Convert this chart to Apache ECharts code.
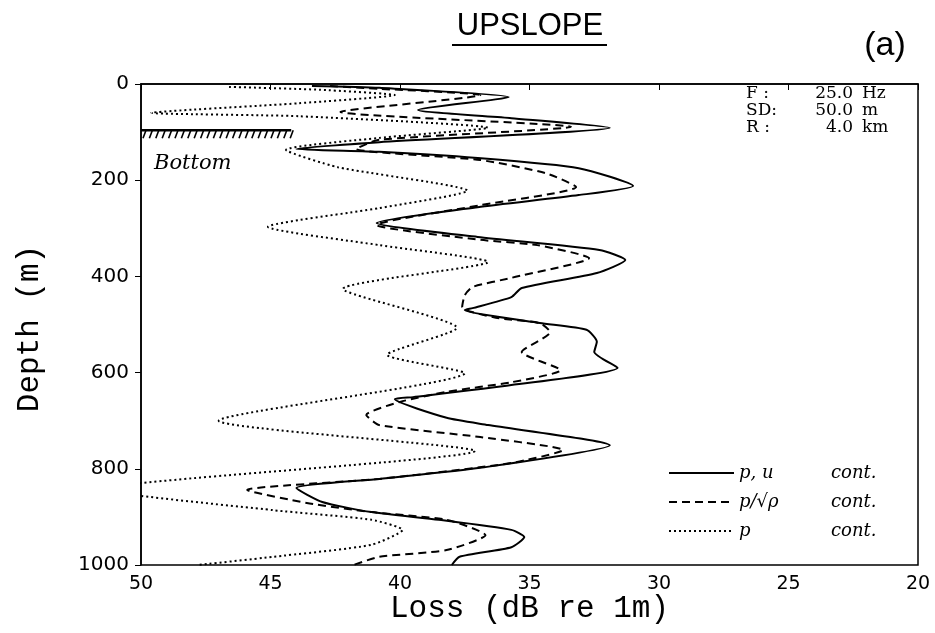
<!DOCTYPE html>
<html><head><meta charset="utf-8">
<script src="https://cdn.jsdelivr.net/npm/echarts@6/dist/echarts.min.js"></script>
<style>html,body{margin:0;padding:0;background:#fff}#c{width:935px;height:633px}</style>
</head><body><div id="c"></div>
<script>
// Loss (dB) vs depth (m) for the three continuity conditions
const solidLoss  = [43.4,40.8,35.8,39.3,35.7,31.9,40.8,44.0,40.8,37.0,33.1,31.0,33.1,37.0,40.9,37.0,32.3,31.3,32.4,35.3,35.7,37.2,37.5,34.6,32.8,32.4,32.5,31.6,35.7,39.5,40.2,38.2,36.6,31.9,36.9,40.8,44.0,43.0,41.1,38.5,35.7,35.2,35.7,37.7,38.0];
const solidDepth = [4,8,27,54,71,91,121,135,141,154,175,212,231,256,289,318,345,366,393,424,443,466,470,497,511,536,557,590,626,651,655,694,709,751,798,821,840,869,890,906,927,942,963,983,1000];

const dashLoss  = [42.7,40.8,36.9,42.3,33.4,40.8,41.7,36.9,34.4,33.2,36.9,40.9,36.9,34.7,32.7,35.7,37.2,37.5,37.6,36.3,34.6,34.2,35.3,33.8,35.7,38.2,40.0,41.3,40.8,36.9,33.7,35.7,40.8,45.9,43.6,41.1,38.2,36.7,38.2,40.8,41.8];
const dashDepth = [4,10,23,58,89,116,135,158,185,214,252,293,324,335,362,403,422,439,464,486,497,516,557,595,620,640,661,688,709,734,761,788,821,844,871,890,906,938,969,983,1000];

const dotLoss  = [46.6,43.1,40.2,43.9,49.6,43.9,36.6,40.8,44.4,42.4,37.4,40.8,45.1,40.8,36.6,42.2,37.8,40.5,37.5,47.0,37.1,51.5,44.9,41.1,39.9,41.1,44.9,47.8];
const dotDepth = [6,12,23,40,60,67,91,112,137,173,222,258,297,335,370,426,507,563,601,700,763,843,886,906,927,958,983,1000];

const lossTicks  = [50,45,40,35,30,25,20];
const depthTicks = [0,200,400,600,800,1000];
const seriesNames = ['p, u', 'p/\u221A\u03C1', 'p'];
const infoRows = [['F :','25.0','Hz'],['SD:','50.0','m'],['R :','4.0','km']];
const bottomDepth = 96;

const zip = (a,b) => a.map((v,i)=>[v,b[i]]);
const chart = echarts.init(document.getElementById('c'));
const serif = '"DejaVu Serif", serif';
const mono = '"Liberation Mono", monospace';
const sans = '"DejaVu Sans", sans-serif';

chart.setOption({
  animation:false,
  backgroundColor:'#fff',
  grid:{left:141, right:17, top:84, bottom:68, show:true, borderColor:'#000', borderWidth:1.5,
        containLabel:false, outerBoundsMode:'none'},
  legend:{orient:'vertical', left:663, top:459, itemWidth:65, itemHeight:14, itemGap:11,
    data:seriesNames,
    itemStyle:{opacity:0},
    formatter: n => '{a|'+n+'}{b|cont.}',
    textStyle:{rich:{a:{width:92, fontFamily:serif, fontStyle:'italic', fontSize:18, lineHeight:16, color:'#000'},
                     b:{fontFamily:serif, fontStyle:'italic', fontSize:18, lineHeight:16, color:'#000'}}}},
  xAxis:{type:'value', min:20, max:50, interval:5, inverse:true,
    name:'Loss (dB re 1m)', nameLocation:'middle', nameGap:28, nameMoveOverlap:false,
    nameTextStyle:{fontFamily:mono, fontSize:31, color:'#000'},
    axisLine:{lineStyle:{color:'#000', width:1.5}},
    axisTick:{show:true, length:6, lineStyle:{color:'#000'}},
    axisLabel:{fontFamily:sans, fontSize:19, color:'#000', margin:10, formatter:v=>String(v)},
    splitLine:{show:false}},
  yAxis:{type:'value', min:0, max:1000, interval:200, inverse:true,
    name:'Depth (m)', nameLocation:'middle', nameGap:96, nameRotate:90,
    nameTextStyle:{fontFamily:mono, fontSize:31, color:'#000', padding:[0,0,0,-8]},
    axisLine:{lineStyle:{color:'#000', width:1.5}},
    axisTick:{show:true, length:6, lineStyle:{color:'#000'}},
    axisLabel:{fontFamily:sans, fontSize:20, color:'#000', margin:12, formatter:v=>String(v)},
    splitLine:{show:false}},
  series:[
    {name:seriesNames[0], type:'line', data:zip(solidLoss,solidDepth), symbol:'none', smooth:0.2,
      lineStyle:{color:'#000', width:2, type:'solid'}, itemStyle:{color:'#000'}},
    {name:seriesNames[1], type:'line', data:zip(dashLoss,dashDepth), symbol:'none', smooth:0.2,
      lineStyle:{color:'#000', width:2, type:[8,5]}, itemStyle:{color:'#000'}},
    {name:seriesNames[2], type:'line', data:zip(dotLoss,dotDepth), symbol:'none', smooth:0.2,
      lineStyle:{color:'#000', width:2, type:[2,3]}, itemStyle:{color:'#000'}}
  ]
});

// decorations
const px = v => chart.convertToPixel({xAxisIndex:0, yAxisIndex:0}, v);
const g = [];
const h0 = px([50, bottomDepth]), h1 = px([44.2, bottomDepth]);
g.push({type:'line', shape:{x1:h0[0], y1:h0[1], x2:h1[0], y2:h1[1]}, style:{stroke:'#000', lineWidth:2.5}});
for (let x = h0[0] + 2; x < h1[0]; x += 6.4) {
  g.push({type:'line', shape:{x1:x, y1:h0[1]+8, x2:x+3, y2:h0[1]}, style:{stroke:'#000', lineWidth:1.6}});
}
const bt = px([49.5, 165]);
g.push({type:'text', x:bt[0], y:bt[1], style:{text:'Bottom', font:'italic 21px "DejaVu Serif"', fill:'#000', align:'left', verticalAlign:'middle'}});
infoRows.forEach((r,i)=>{
  const y = 94 + i*17;
  g.push({type:'text', x:746, y:y, style:{text:r[0], font:'17px "DejaVu Serif"', fill:'#000', verticalAlign:'middle'}});
  g.push({type:'text', x:853, y:y, style:{text:r[1], font:'17px "DejaVu Serif"', fill:'#000', align:'right', verticalAlign:'middle'}});
  g.push({type:'text', x:862, y:y, style:{text:r[2], font:'17px "DejaVu Serif"', fill:'#000', verticalAlign:'middle'}});
});
g.push({type:'text', x:530, y:26, style:{text:'UPSLOPE', font:'31px "Liberation Sans"', fill:'#000', align:'center', verticalAlign:'middle'}});
g.push({type:'line', shape:{x1:452, y1:45, x2:607, y2:45}, style:{stroke:'#000', lineWidth:2}});
g.push({type:'text', x:885, y:46, style:{text:'(a)', font:'34px "Liberation Sans"', fill:'#000', align:'center', verticalAlign:'middle'}});
chart.setOption({graphic:g});
</script></body></html>
